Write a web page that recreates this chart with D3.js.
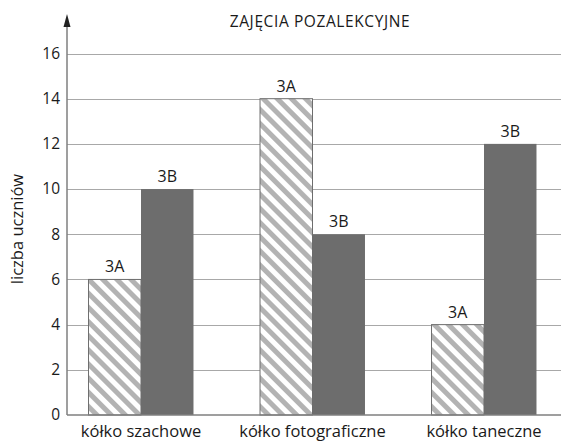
<!DOCTYPE html>
<html><head><meta charset="utf-8">
<script src="https://cdn.jsdelivr.net/npm/d3@7"></script>
<style>body{margin:0;background:#fff}svg{display:block}text{font-family:"Open Sans",sans-serif;fill:#1a1a1a}</style>
</head><body>
<script>
const title = "ZAJĘCIA POZALEKCYJNE";
const yLabel = "liczba uczniów";
const categories = ["kółko szachowe", "kółko fotograficzne", "kółko taneczne"];
const seriesNames = ["3A", "3B"];
const values3A = [6, 14, 4];
const values3B = [10, 8, 12];
const yTicks = [0, 2, 4, 6, 8, 10, 12, 14, 16];

const W = 561, H = 441;
const svg = d3.select("body").append("svg").attr("width", W).attr("height", H);
const defs = svg.append("defs");
const pat = defs.append("pattern").attr("id", "hatch").attr("patternUnits", "userSpaceOnUse")
  .attr("width", 10).attr("height", 10).attr("patternTransform", "rotate(-45)");
pat.append("rect").attr("width", 10).attr("height", 10).attr("fill", "#fff");
pat.append("rect").attr("width", 5).attr("height", 10).attr("fill", "#b3b3b3");

const axisX = 67, baseY = 415;
const y = d3.scaleLinear().domain([0, 16]).range([baseY, 53.5]);
const x0 = d3.scaleBand().domain(categories).range([55.25, 569.75]).paddingInner(0.388).paddingOuter(0.194);
const x1 = d3.scaleBand().domain(seriesNames).range([0, x0.bandwidth()]);

// gridlines
svg.append("g").selectAll("line").data(yTicks.filter(t => t > 0)).join("line")
  .attr("x1", axisX).attr("x2", W).attr("y1", d => Math.round(y(d)) + 0.5).attr("y2", d => Math.round(y(d)) + 0.5)
  .attr("stroke", "#a8a8a8").attr("stroke-width", 1);

// y tick labels
svg.append("g").selectAll("text").data(yTicks).join("text")
  .attr("x", 60).attr("y", d => y(d)).attr("dy", "0.35em").attr("text-anchor", "end")
  .attr("font-size", 15.5).text(d => d);

const rows = categories.map((c, i) => ({c, vals: [{s: "3A", v: values3A[i]}, {s: "3B", v: values3B[i]}]}));
const g = svg.append("g").selectAll("g").data(rows).join("g").attr("transform", d => `translate(${x0(d.c)},0)`);
g.selectAll("rect").data(d => d.vals).join("rect")
  .attr("x", d => x1(d.s)).attr("width", x1.bandwidth())
  .attr("y", d => y(d.v)).attr("height", d => baseY - y(d.v))
  .attr("fill", d => d.s === "3A" ? "url(#hatch)" : "#6d6d6d")
  .attr("stroke", d => d.s === "3A" ? "#6d6d6d" : "none").attr("stroke-width", 1);
g.selectAll("text").data(d => d.vals).join("text")
  .attr("x", d => x1(d.s) + x1.bandwidth() / 2).attr("y", d => y(d.v) - 7)
  .attr("text-anchor", "middle").attr("font-size", 16).text(d => d.s);

// axes
svg.append("line").attr("x1", axisX).attr("x2", axisX).attr("y1", 24).attr("y2", baseY)
  .attr("stroke", "#7f7f7f").attr("stroke-width", 1.5);
svg.append("line").attr("x1", axisX).attr("x2", W).attr("y1", baseY).attr("y2", baseY)
  .attr("stroke", "#7f7f7f").attr("stroke-width", 1.5);
svg.append("path").attr("d", `M${axisX},14 L${axisX - 3.5},27 L${axisX + 3.5},27 Z`).attr("fill", "#222");

// x labels
svg.append("g").selectAll("text").data(categories).join("text")
  .attr("x", d => x0(d) + x0.bandwidth() / 2).attr("y", 437).attr("text-anchor", "middle")
  .attr("font-size", 16.5).text(d => d);

svg.append("text").attr("x", 320).attr("y", 27).attr("text-anchor", "middle").attr("font-size", 15.5)
  .attr("letter-spacing", 0.6).text(title);
svg.append("text").attr("transform", "translate(23,229) rotate(-90)").attr("text-anchor", "middle")
  .attr("font-size", 16.5).text(yLabel);
</script>
</body></html>
